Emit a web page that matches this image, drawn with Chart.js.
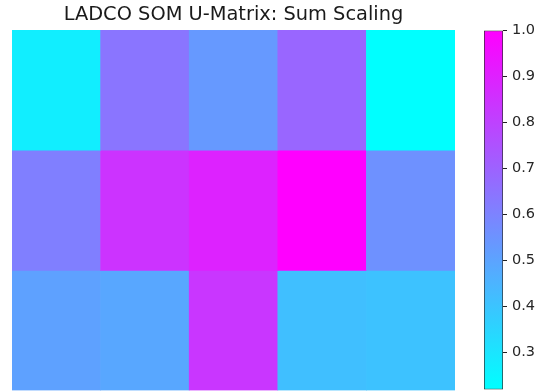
<!DOCTYPE html>
<html>
<head>
<meta charset="utf-8">
<script src="https://cdn.jsdelivr.net/npm/chart.js@4.4.1/dist/chart.umd.min.js"></script>
<style>
  html, body { margin: 0; padding: 0; background: #fff; }
  #wrap { position: relative; width: 540px; height: 391px; overflow: hidden; }
  #heat { position: absolute; left: 0; top: 0; }
  #cbar { position: absolute; left: 470px; top: 0; }
</style>
</head>
<body>
<div id="wrap">
  <canvas id="heat" width="470" height="391"></canvas>
  <canvas id="cbar" width="70" height="391"></canvas>
</div>
<script>
// U-matrix node distances, one array per map row (top to bottom)
const columns = ['0', '1', '2', '3', '4'];
const uRow0 = [0.271, 0.642, 0.532, 0.688, 0.219];
const uRow1 = [0.610, 0.844, 0.896, 1.000, 0.556];
const uRow2 = [0.508, 0.488, 0.836, 0.414, 0.406];
const uRows = [uRow0, uRow1, uRow2];
const colorbarTicks = [0.3, 0.4, 0.5, 0.6, 0.7, 0.8, 0.9, 1.0];

const allValues = uRows.flat();
const vmin = Math.min(...allValues);
const vmax = Math.max(...allValues);

// "cool" colormap: cyan -> magenta
function cool(t) {
  t = Math.max(0, Math.min(1, t));
  return 'rgb(' + Math.round(255 * t) + ',' + Math.round(255 * (1 - t)) + ',255)';
}
function colorFor(v) { return cool((v - vmin) / (vmax - vmin)); }

const FONT = "'DejaVu Sans', 'Liberation Sans', sans-serif";

// Heatmap: each cell is a floating bar spanning its row band
const heatDatasets = uRows.map((row, i) => ({
  label: 'row ' + i,
  data: row.map(() => [i, i + 1]),
  backgroundColor: row.map(colorFor),
  borderWidth: 0,
  barPercentage: 1.0,
  categoryPercentage: 1.0,
  grouped: false
}));

new Chart(document.getElementById('heat'), {
  type: 'bar',
  data: { labels: columns, datasets: heatDatasets },
  options: {
    responsive: false,
    animation: false,
    events: [],
    layout: { padding: { left: 12, right: 15, top: 0, bottom: 0.5 } },
    plugins: {
      legend: { display: false },
      tooltip: { enabled: false },
      title: {
        display: true,
        text: 'LADCO SOM U-Matrix: Sum Scaling',
        color: '#1a1a1a',
        font: { family: FONT, size: 19.4, weight: 'normal' },
        padding: { top: 3, bottom: 3.7 }
      }
    },
    scales: {
      x: { display: false },
      y: { display: false, min: 0, max: 3, reverse: true }
    }
  }
});

// Colorbar: one floating bar from vmin to vmax filled with the colormap
new Chart(document.getElementById('cbar'), {
  type: 'bar',
  data: {
    labels: ['scale'],
    datasets: [{
      data: [[vmin, vmax]],
      backgroundColor: (ctx) => {
        const chart = ctx.chart;
        const area = chart.chartArea;
        if (!area) return cool(0.5);
        const ys = chart.scales.y;
        const g = chart.ctx.createLinearGradient(0, ys.getPixelForValue(vmin), 0, ys.getPixelForValue(vmax));
        for (let k = 0; k <= 10; k++) g.addColorStop(k / 10, cool(k / 10));
        return g;
      },
      borderColor: '#2b2b2b',
      borderWidth: 1,
      borderSkipped: false,
      barPercentage: 1.0,
      categoryPercentage: 1.0
    }]
  },
  options: {
    responsive: false,
    animation: false,
    events: [],
    layout: { padding: { left: 14, right: 0, top: 30.5, bottom: 1.5 } },
    plugins: { legend: { display: false }, tooltip: { enabled: false }, title: { display: false } },
    scales: {
      x: { display: false },
      y: {
        position: 'right',
        min: vmin,
        max: vmax,
        afterBuildTicks: (scale) => { scale.ticks = colorbarTicks.map(v => ({ value: v })); },
        afterFit: (scale) => { scale.width = 37; scale.paddingTop = 0; scale.paddingBottom = 0; },
        border: { display: false },
        grid: { drawOnChartArea: false, drawTicks: true, tickLength: 4, color: '#222', lineWidth: 1 },
        ticks: {
          color: '#262626',
          padding: 5,
          font: { family: FONT, size: 14.5 },
          callback: (v) => Number(v).toFixed(1)
        }
      }
    }
  }
});
</script>
</body>
</html>
